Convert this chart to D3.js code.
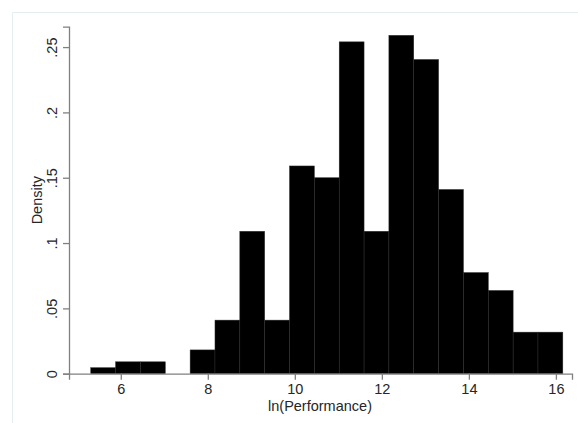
<!DOCTYPE html>
<html>
<head>
<meta charset="utf-8">
<script src="https://cdn.jsdelivr.net/npm/d3@7"></script>
<style>
  html, body { margin: 0; padding: 0; background: #fff; }
  svg { display: block; }
  text { font-family: "Liberation Sans", Arial, sans-serif; }
</style>
</head>
<body>
<svg id="chart" width="578" height="423"></svg>
<script>
// ---- data ----
const binStart = 5.31;
const binWidth = 0.571;
const densities = [0.0046, 0.0091, 0.0091, 0, 0.0182, 0.041, 0.109, 0.041, 0.159, 0.150,
                   0.254, 0.109, 0.259, 0.2405, 0.141, 0.0774, 0.0637, 0.0318, 0.0318];
const xTicks = [6, 8, 10, 12, 14, 16];
const yTicks = [0, 0.05, 0.1, 0.15, 0.2, 0.25];
const yTickLabels = ["0", ".05", ".1", ".15", ".2", ".25"];
const xTitle = "ln(Performance)";
const yTitle = "Density";

const bins = densities.map((d, i) => ({x0: binStart + i * binWidth, x1: binStart + (i + 1) * binWidth, d}));

const svg = d3.select("#chart");

// outer frame (faint)
svg.append("path")
  .attr("d", "M12.5,423 L12.5,12.5 L578,12.5")
  .attr("fill", "none").attr("stroke", "#e6edf1").attr("stroke-width", 1);

const x = d3.scaleLinear().domain([4.81, 16.37]).range([69, 572]);
const y = d3.scaleLinear().domain([0, 0.2656]).range([373.7, 26.7]);

// bars
svg.append("g").selectAll("rect").data(bins.filter(b => b.d > 0)).join("rect")
  .attr("x", b => x(b.x0))
  .attr("width", b => x(b.x1) - x(b.x0))
  .attr("y", b => y(b.d))
  .attr("height", b => y(0) - y(b.d))
  .attr("fill", "#000")
  .attr("stroke", "#2e2e2e")
  .attr("stroke-width", 0.5);

const axisColor = "#808080";
const labelColor = "#262626";

// x axis
const gx = svg.append("g").attr("transform", `translate(0,${y(0)})`)
  .call(d3.axisBottom(x).tickValues(xTicks).tickSize(6).tickPadding(4).tickFormat(d3.format("d")));
gx.select(".domain").attr("stroke", axisColor).attr("stroke-width", 1.3);
gx.selectAll(".tick line").attr("stroke", axisColor).attr("stroke-width", 1.3);
gx.selectAll(".tick text").attr("fill", labelColor).style("font-size", "14.5px")
  .style("font-family", "'Liberation Sans', Arial, sans-serif");

// y axis
const gy = svg.append("g").attr("transform", `translate(${x(4.81)},0)`)
  .call(d3.axisLeft(y).tickValues(yTicks).tickSize(6)
    .tickFormat((d, i) => yTickLabels[i]));
gy.select(".domain").attr("stroke", axisColor).attr("stroke-width", 1.3);
gy.selectAll(".tick line").attr("stroke", axisColor).attr("stroke-width", 1.3);
gy.selectAll(".tick text")
  .attr("fill", labelColor)
  .style("font-size", "14.5px")
  .style("font-family", "'Liberation Sans', Arial, sans-serif")
  .attr("x", null).attr("dy", null)
  .attr("text-anchor", "middle")
  .attr("transform", "translate(-12,0) rotate(-90)")
  .attr("dominant-baseline", "auto");

// titles
svg.append("text")
  .attr("x", (x(4.81) + x(16.37)) / 2 - 0.5)
  .attr("y", 411)
  .attr("text-anchor", "middle")
  .attr("fill", labelColor)
  .style("font-size", "14.5px")
  .text(xTitle);

svg.append("text")
  .attr("transform", `translate(42,${(y(0) + y(0.2656)) / 2}) rotate(-90)`)
  .attr("text-anchor", "middle")
  .attr("fill", labelColor)
  .style("font-size", "14.5px")
  .text(yTitle);
</script>
</body>
</html>
